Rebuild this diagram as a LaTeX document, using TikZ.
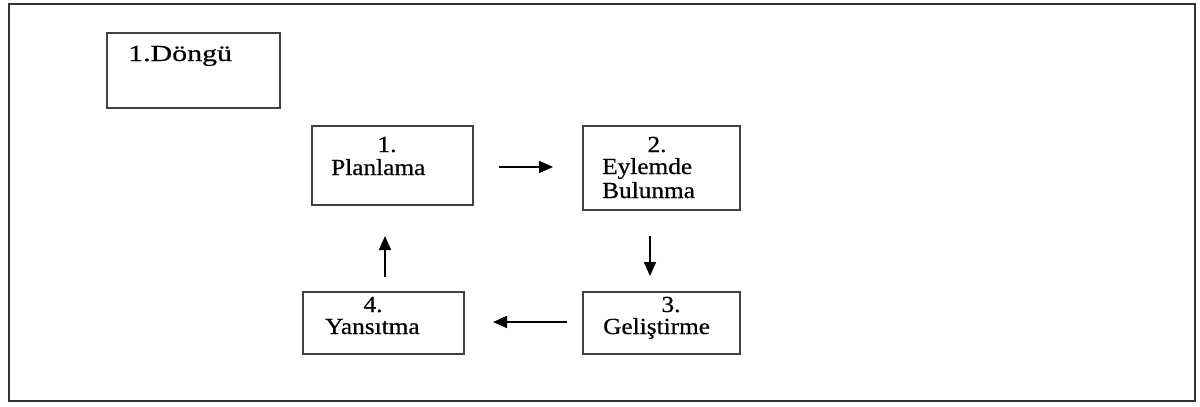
\documentclass[tikz,border=0pt]{standalone}
\usepackage{fontspec}
\setmainfont{Liberation Serif}[RawFeature={embolden=0.6}]
\usetikzlibrary{arrows.meta}
\begin{document}
\begin{tikzpicture}[x=1pt,y=-1pt,
  frame/.style={draw=black!80,line width=2pt},
  stagebox/.style={draw=black!75,line width=1.6pt},
  lbl/.style={inner sep=0pt,anchor=base west,font=\fontsize{23}{27}\selectfont},
  num/.style={inner sep=0pt,anchor=base,font=\fontsize{23}{27}\selectfont},
  flow/.style={line width=1.6pt,-{Triangle[length=14pt,width=12pt]}}]
\useasboundingbox (0,0) rectangle (1200,407);
% outer frame
\draw[frame] (9,4) rectangle (1195,401);
% title box
\draw[stagebox] (107,33) rectangle (280,108);
\node[lbl] (title) at (128,61) {\scalebox{1.3}[1]{1.Döngü}};
% stage boxes
\draw[stagebox] (312,126) rectangle (473,205);
\draw[stagebox] (583,126) rectangle (740,210);
\draw[stagebox] (583,292) rectangle (740,354);
\draw[stagebox] (303,292) rectangle (464,354);
\coordinate (b1e) at (499,167);
\coordinate (b2w) at (553,167);
\coordinate (b2s) at (650,236);
\coordinate (b3n) at (650,276);
\coordinate (b3w) at (567,322);
\coordinate (b4e) at (493,322);
\coordinate (b4n) at (385,277);
\coordinate (b1s) at (385,236);
% stage texts
\node[num] (n1) at (387,152) {\scalebox{1.1}[1]{1.}};
\node[lbl] (t1) at (331,175) {\scalebox{1.1}[1]{Planlama}};
\node[num] (n2) at (657,152) {\scalebox{1.1}[1]{2.}};
\node[lbl] (t2a) at (602,174) {\scalebox{1.1}[1]{Eylemde}};
\node[lbl] (t2b) at (602,198) {\scalebox{1.1}[1]{Bulunma}};
\node[num] (n3) at (671,312) {\scalebox{1.1}[1]{3.}};
\node[lbl] (t3) at (603,334) {\scalebox{1.1}[1]{Geliştirme}};
\node[num] (n4) at (373,312) {\scalebox{1.1}[1]{4.}};
\node[lbl] (t4) at (325,334) {\scalebox{1.1}[1]{Yansıtma}};
% cycle arrows
\draw[flow] (b1e) -- (b2w);
\draw[flow] (b2s) -- (b3n);
\draw[flow] (b3w) -- (b4e);
\draw[flow] (b4n) -- (b1s);
\end{tikzpicture}
\end{document}
